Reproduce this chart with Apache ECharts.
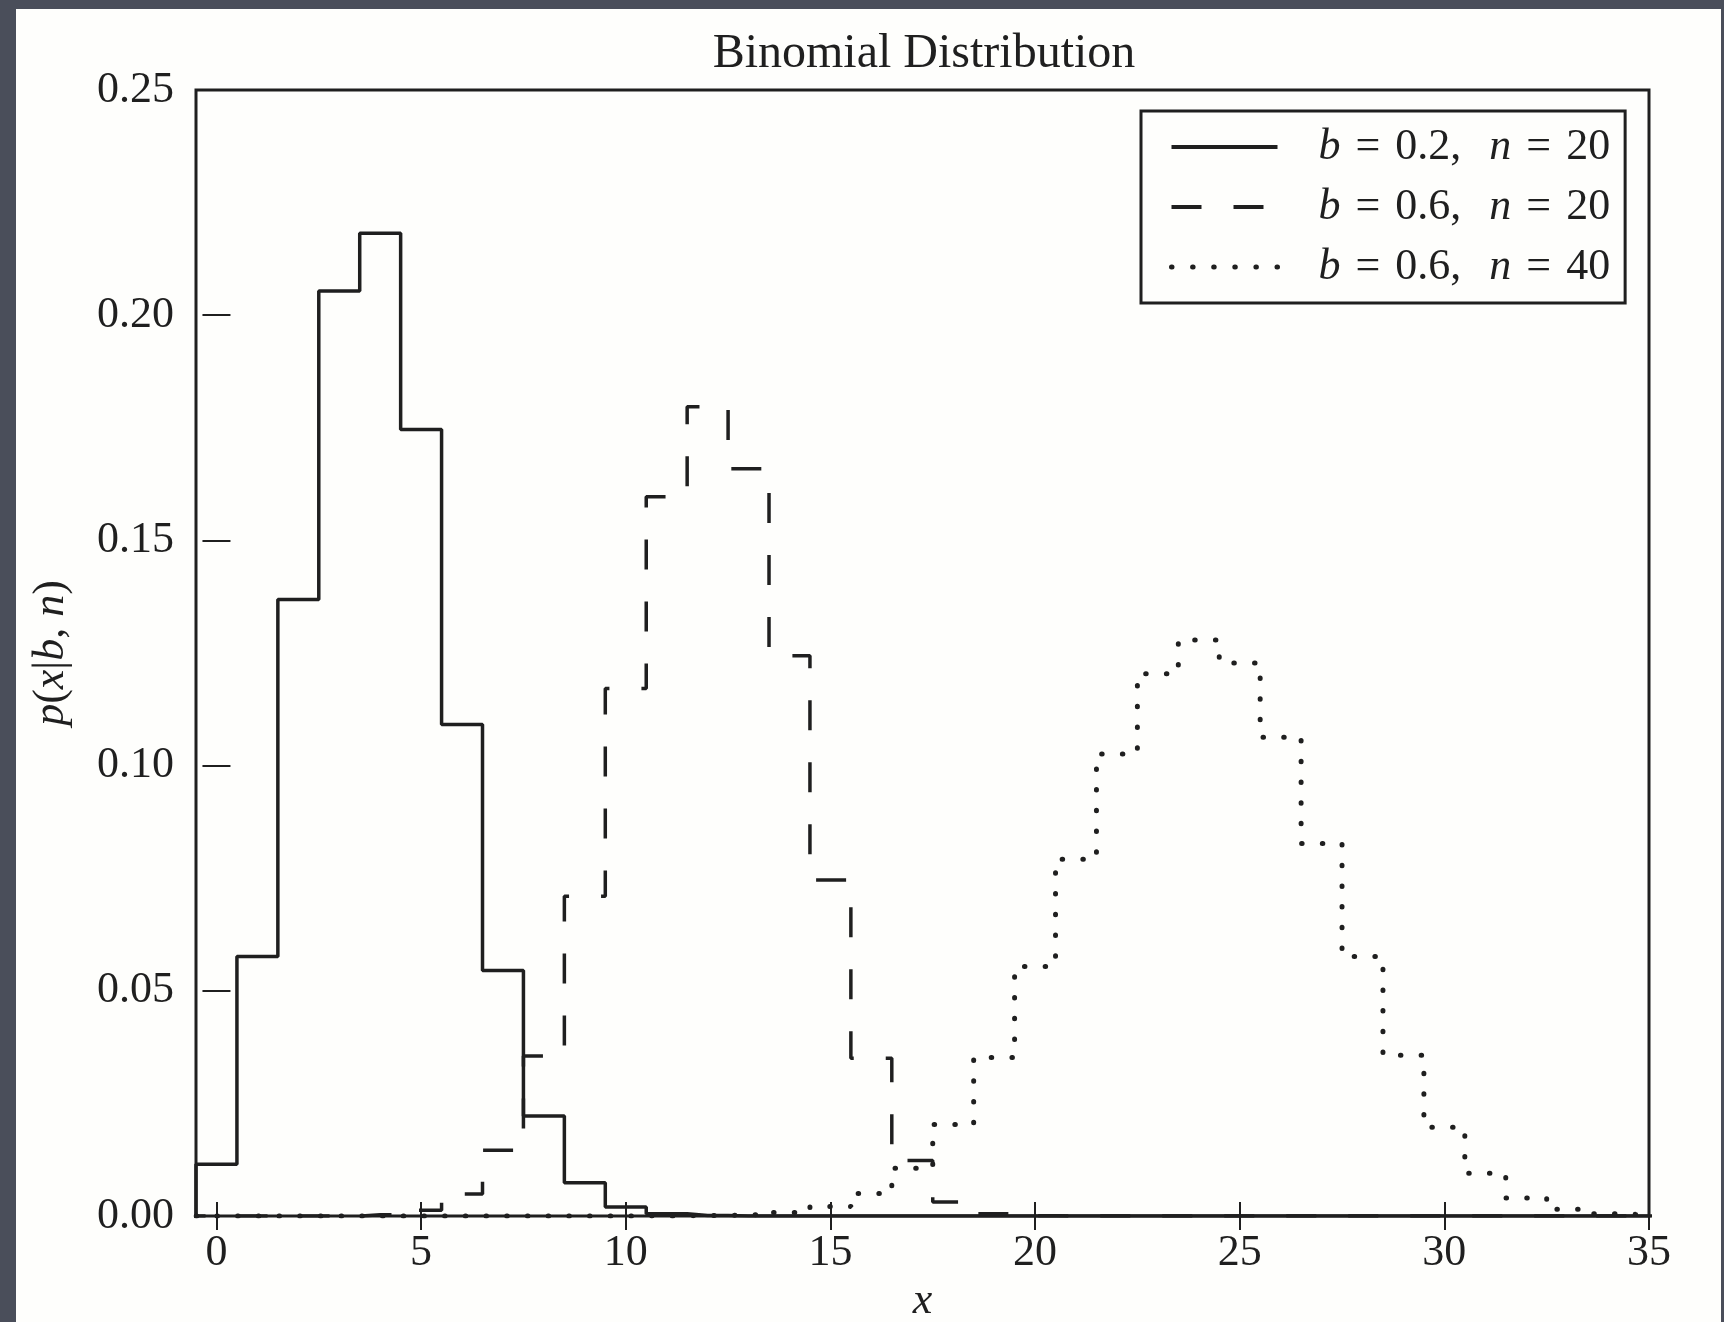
<!DOCTYPE html>
<html>
<head>
<meta charset="utf-8">
<script src="https://cdn.jsdelivr.net/npm/echarts@6/dist/echarts.min.js"></script>
<style>
  html, body { margin: 0; padding: 0; width: 1724px; height: 1322px; background: #4a4e5a; overflow: hidden; }
  #chart { position: absolute; left: 16px; top: 9px; width: 1705px; height: 1313px; background: #fefefc; }
</style>
</head>
<body>
<div id="chart"></div>
<script>
// ---- data ----
const titleText = 'Binomial Distribution';
const xValues = [-1, 0, 1, 2, 3, 4, 5, 6, 7, 8, 9, 10, 11, 12, 13, 14, 15, 16, 17, 18,
                 19, 20, 21, 22, 23, 24, 25, 26, 27, 28, 29, 30, 31, 32, 33, 34, 35, 36];
const seriesNames = ['b = 0.2, n = 20', 'b = 0.6, n = 20', 'b = 0.6, n = 40'];
const pB02N20 = [0, 0.0115, 0.0576, 0.1369, 0.2054, 0.2182, 0.1746, 0.1091, 0.0545, 0.0222,
                 0.0074, 0.0020, 0.0005, 0.0001, 0, 0, 0, 0, 0, 0,
                 0, 0, 0, 0, 0, 0, 0, 0, 0, 0, 0, 0, 0, 0, 0, 0, 0, 0];
const pB06N20 = [0, 0, 0, 0, 0, 0.0003, 0.0013, 0.0049, 0.0146, 0.0355,
                 0.0710, 0.1171, 0.1597, 0.1797, 0.1659, 0.1244, 0.0746, 0.0350, 0.0123, 0.0031,
                 0.0005, 0.00004, 0, 0, 0, 0, 0, 0, 0, 0, 0, 0, 0, 0, 0, 0, 0, 0];
const pB06N40 = [0, 0, 0, 0, 0, 0, 0, 0, 0, 0,
                 0, 0, 0.00002, 0.0001, 0.0003, 0.0008, 0.0021, 0.0050, 0.0106, 0.0203,
                 0.0352, 0.0554, 0.0792, 0.1026, 0.1204, 0.1279, 0.1228, 0.1063, 0.0827, 0.0576,
                 0.0357, 0.0197, 0.0095, 0.0040, 0.0015, 0.0005, 0.0001, 0.00002];
const xTicks = [0, 5, 10, 15, 20, 25, 30, 35];
const yTicks = [0, 0.05, 0.10, 0.15, 0.20, 0.25];

// ---- styling ----
const ink = '#1f1f1f';
const serif = 'Liberation Serif';
const lineStyles = [
  { color: ink, width: 3.5, type: 'solid' },
  { color: ink, width: 3.5, type: [30, 32] },
  { color: ink, width: 5, type: [0.5, 20.2], cap: 'round' }
];
const legendLineStyles = [
  { color: ink, width: 4, type: 'solid', opacity: 1 },
  { color: ink, width: 4, type: [30, 32], opacity: 1 },
  { color: ink, width: 5, type: [0.5, 20.6], cap: 'round', opacity: 1 }
];
const seriesValues = [pB02N20, pB06N20, pB06N40];

const chart = echarts.init(document.getElementById('chart'), null, { renderer: 'canvas' });

const legendRich = {
  i: { fontFamily: serif, fontStyle: 'italic', fontSize: 44, color: ink },
  g: { fontFamily: serif, fontSize: 44, width: 15 },
  w: { fontFamily: serif, fontSize: 44, width: 28 }
};
function legendFormat(name) {
  // b = 0.2, n = 20  ->  italic b and n
  const m = name.match(/^b = ([\d.]+), n = (\d+)$/);
  return '{i|b}{g| }={g| }' + m[1] + ',{w| }{i|n}{g| }={g| }' + m[2];
}

const axisTickCommon = { inside: true, length: 14, lineStyle: { color: ink, width: 2 } };

const option = {
  animation: false,
  backgroundColor: 'transparent',
  title: {
    text: titleText,
    left: 908,
    top: 21,
    padding: 0,
    textAlign: 'center',
    textStyle: { fontFamily: serif, fontWeight: 'normal', fontSize: 48, color: ink }
  },
  grid: {
    left: 180, top: 81, right: 72, bottom: 106,
    show: true, borderColor: ink, borderWidth: 3, backgroundColor: 'transparent',
    outerBoundsMode: 'none'
  },
  legend: {
    orient: 'vertical',
    left: 1125, top: 102,
    padding: [11, 15, 11, 28],
    backgroundColor: '#fefefc',
    borderColor: ink, borderWidth: 3, borderRadius: 0,
    itemWidth: 106, itemHeight: 14, itemGap: 10,
    itemStyle: { opacity: 0, borderWidth: 0 },
    data: seriesNames.map((name, i) => ({ name: name, lineStyle: legendLineStyles[i] })),
    formatter: legendFormat,
    textStyle: {
      fontFamily: serif, fontSize: 44, color: ink, lineHeight: 50,
      padding: [0, 0, 0, 36], rich: legendRich
    }
  },
  xAxis: [{
    type: 'value', position: 'bottom', min: -0.5, max: 35,
    name: 'x', nameLocation: 'middle', nameGap: 57,
    nameTextStyle: { fontFamily: serif, fontStyle: 'italic', fontSize: 44, color: ink },
    axisLine: { show: false },
    axisTick: Object.assign({ customValues: xTicks }, axisTickCommon),
    axisLabel: { customValues: xTicks, margin: 15, fontFamily: serif, fontSize: 44, color: ink },
    splitLine: { show: false }
  }, {
    type: 'value', position: 'top', min: -0.5, max: 35,
    axisLine: { show: false },
    axisTick: Object.assign({ customValues: xTicks }, axisTickCommon),
    axisLabel: { show: false },
    splitLine: { show: false }
  }],
  yAxis: [{
    type: 'value', position: 'left', min: 0, max: 0.25, interval: 0.05,
    name: '{i|p}({i|x}|{i|b}, {i|n})', nameLocation: 'middle', nameGap: 123, nameRotate: 90,
    nameTextStyle: {
      fontFamily: serif, fontSize: 44, color: ink,
      rich: { i: { fontFamily: serif, fontStyle: 'italic', fontSize: 44, color: ink } }
    },
    axisLine: { show: false },
    axisTick: Object.assign({ customValues: yTicks }, axisTickCommon),
    axisLabel: {
      customValues: yTicks, margin: 22, fontFamily: serif, fontSize: 44, color: ink,
      formatter: v => v.toFixed(2)
    },
    splitLine: { show: false }
  }, {
    type: 'value', position: 'right', min: 0, max: 0.25, interval: 0.05,
    axisLine: { show: false },
    axisTick: Object.assign({ customValues: yTicks }, axisTickCommon),
    axisLabel: { show: false },
    splitLine: { show: false }
  }],
  series: seriesNames.map((name, i) => ({
    name: name,
    type: 'line',
    step: 'middle',
    xAxisIndex: 0,
    yAxisIndex: 0,
    symbol: 'none',
    showSymbol: false,
    clip: true,
    lineStyle: lineStyles[i],
    itemStyle: { color: ink },
    emphasis: { disabled: true },
    data: xValues.map((x, k) => [x, seriesValues[i][k]]),
    z: 3 + i
  }))
};
chart.setOption(option);
</script>
</body>
</html>
